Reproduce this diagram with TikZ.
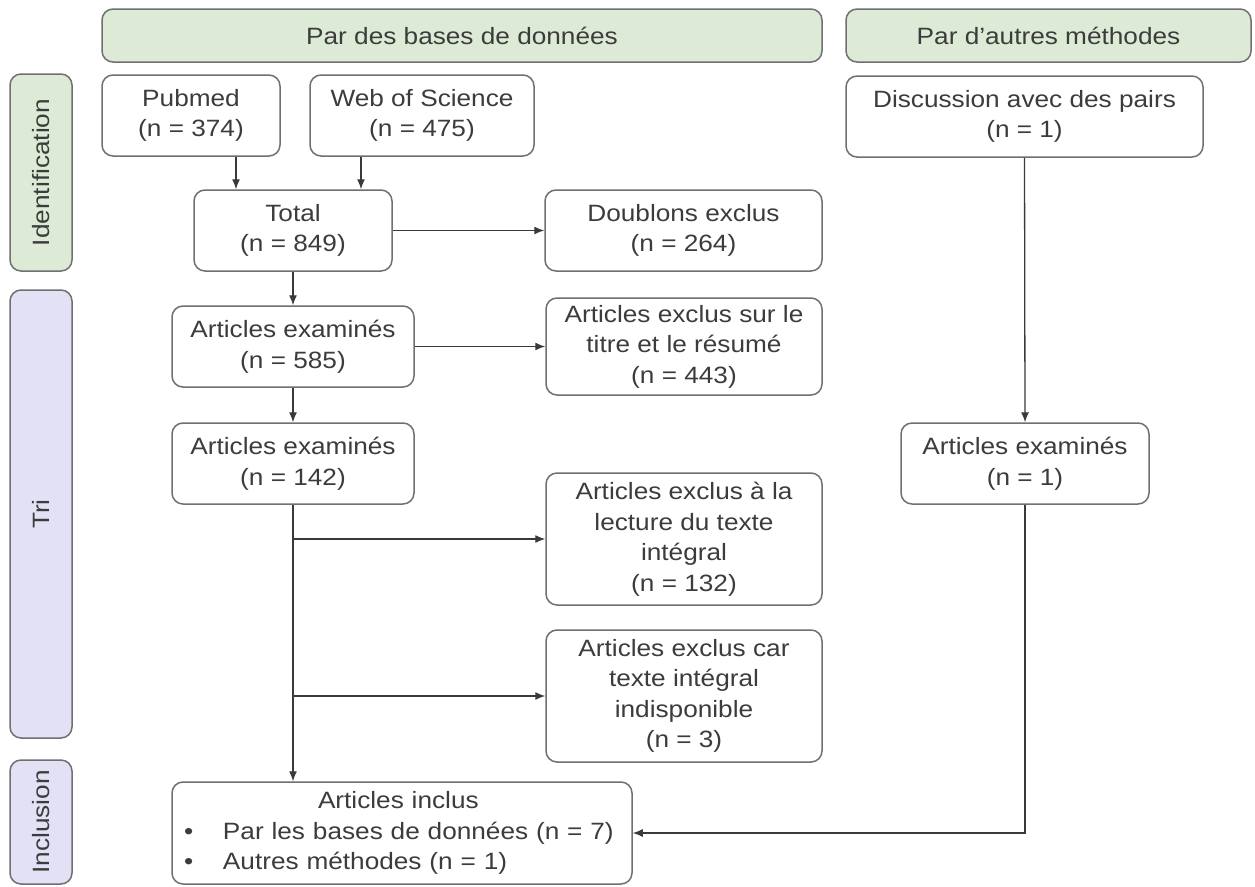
\documentclass[tikz,border=0pt]{standalone}
\usepackage{fontspec}
\setmainfont{Liberation Sans}[FakeStretch=1.11]
\usetikzlibrary{arrows.meta}
\definecolor{txt}{HTML}{3C3C3C}
\definecolor{brd}{HTML}{707070}
\definecolor{lne}{HTML}{3A3A3A}
\definecolor{grn}{HTML}{DDEBD6}
\definecolor{lav}{HTML}{E2E1F6}
\begin{document}
\begin{tikzpicture}[x=1pt,y=-1pt,
  every node/.style={font=\fontsize{23.6}{30.5}\selectfont, text=txt},
  box/.style={draw=brd, line width=1.5pt, rounded corners=11pt, fill=white, align=center, inner sep=0pt},
  head/.style={box, fill=grn},
  sidegrn/.style={box, fill=grn, rotate=90, minimum height=62pt},
  sidelav/.style={box, fill=lav, rotate=90, minimum height=62pt},
  arr/.style={draw=lne, line width=1.3pt, -{Latex[length=10pt,width=8pt]}},
  ln/.style={draw=lne, line width=1.3pt}]
\useasboundingbox[fill=white] (0,0) rectangle (1255,886);

% headers
\node[head, minimum width=720pt, minimum height=53pt] (h1) at (462,35.5) {Par des bases de données};
\node[head, minimum width=405pt, minimum height=53pt] (h2) at (1048.5,35.5) {Par d’autres méthodes};

% side labels
\node[sidegrn, minimum width=197pt] (sid) at (41,172.5) {Identification};
\node[sidelav, minimum width=448pt] (stri) at (41,514) {Tri};
\node[sidelav, minimum width=124pt] (sinc) at (41,822) {Inclusion};

% boxes
\node[box, minimum width=178pt, minimum height=81pt] (pub) at (191,115.5) {Pubmed\\(n = 374)};
\node[box, minimum width=224pt, minimum height=81pt] (wos) at (422,115.5) {Web of Science\\(n = 475)};
\node[box, minimum width=357pt, minimum height=81pt] (disc) at (1024.5,116.5) {Discussion avec des pairs\\(n = 1)};
\node[box, minimum width=198pt, minimum height=81pt] (tot) at (293,230.5) {Total\\(n = 849)};
\node[box, minimum width=277pt, minimum height=81pt] (doub) at (683.5,230.5) {Doublons exclus\\(n = 264)};
\node[box, minimum width=242pt, minimum height=81pt] (ae1) at (293,346.5) {Articles examinés\\(n = 585)};
\node[box, minimum width=276pt, minimum height=97pt] (tit) at (684,346.5) {Articles exclus sur le\\titre et le résumé\\(n = 443)};
\node[box, minimum width=242pt, minimum height=81pt] (ae2) at (293,463.5) {Articles examinés\\(n = 142)};
\node[box, minimum width=248pt, minimum height=81pt] (aer) at (1025,463.5) {Articles examinés\\(n = 1)};
\node[box, minimum width=276pt, minimum height=132pt] (lect) at (684,539) {Articles exclus à la\\lecture du texte\\intégral\\(n = 132)};
\node[box, minimum width=276pt, minimum height=132pt] (car) at (684,696) {Articles exclus car\\texte intégral\\indisponible\\(n = 3)};
\node[box, text width=460pt, align=left, minimum height=102pt] (incl) at (402,833)
  {\hspace*{146pt}Articles inclus\\
   \makebox[51pt][l]{\hspace*{12pt}\textbullet}Par les bases de données (n = 7)\\
   \makebox[51pt][l]{\hspace*{12pt}\textbullet}Autres méthodes (n = 1)};

% connectors
\coordinate (pa) at (236,0);
\coordinate (wa) at (361,0);
\draw[arr] (pub.south -| pa) -- (tot.north -| pa);
\draw[arr] (wos.south -| wa) -- (tot.north -| wa);
\draw[arr] (tot.east) -- (doub.west);
\draw[arr] (tot.south) -- (ae1.north);
\draw[arr] (ae1.east) -- (tit.west);
\draw[arr] (ae1.south) -- (ae2.north);
\draw[arr] (ae2.south) -- (incl.north -| ae2.south);
\draw[arr] (ae2.south |- lect.west) -- (lect.west);
\draw[arr] (ae2.south |- car.west) -- (car.west);
\draw[arr] (disc.south) -- (aer.north);
\draw[arr] (aer.south) |- (incl.east);
\end{tikzpicture}
\end{document}
